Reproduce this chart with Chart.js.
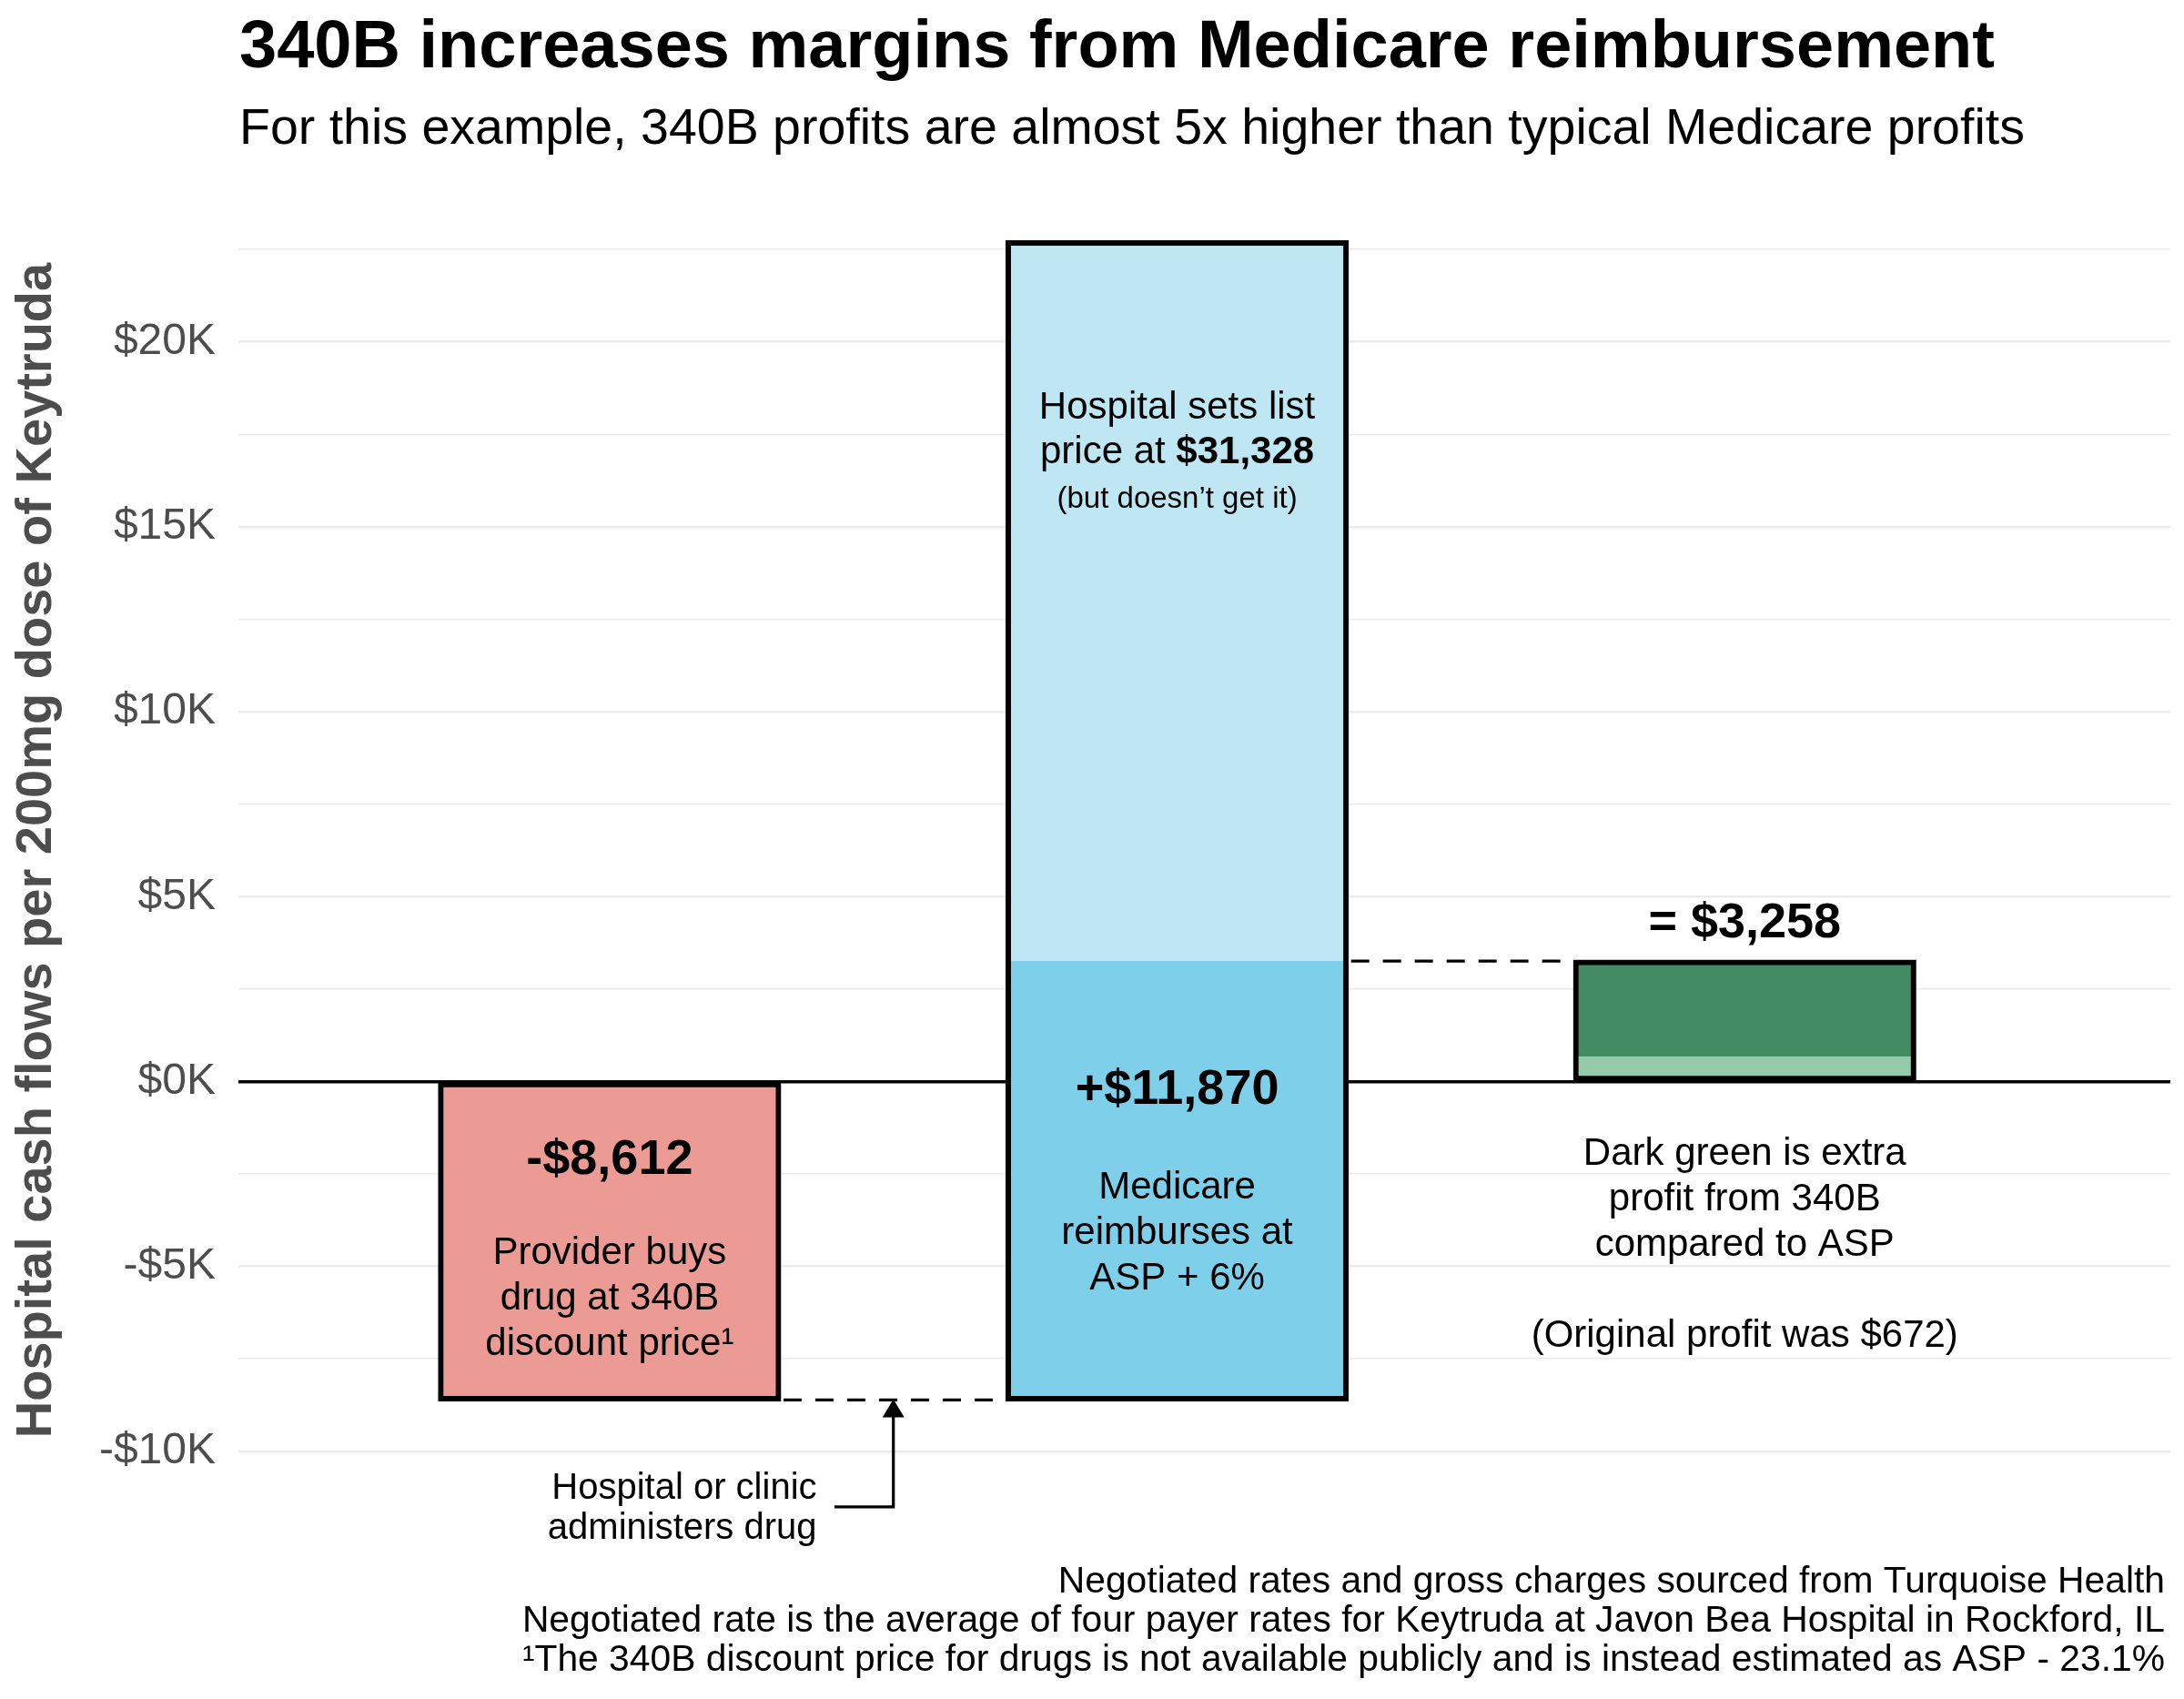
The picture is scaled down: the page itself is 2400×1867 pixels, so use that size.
<!DOCTYPE html>
<html>
<head>
<meta charset="utf-8">
<title>340B increases margins from Medicare reimbursement</title>
<script src="https://cdn.jsdelivr.net/npm/chart.js@4.4.1/dist/chart.umd.min.js"></script>
<style>
    html, body { margin: 0; padding: 0; background: #fff; }
    #chart { display: block; }
</style>
</head>
<body>
<canvas id="chart" width="2400" height="1867"></canvas>
<script>
    // steps of the waterfall, placed at x = 1, 2, 3
    const steps = ["340B purchase", "Medicare reimbursement", "Hospital margin"];
    const stepFlows = [-8612, 11870];      // purchase at 340B price, Medicare pays ASP + 6%
    const listPrice = [31328];             // hospital list price (not collected)
    const aspProfit = [672];               // profit had the drug been bought at ASP
    const yGridTicks = [-10000, -7500, -5000, -2500, 0, 2500, 5000, 7500, 10000, 12500, 15000, 17500, 20000, 22500];
    const yLabelTicks = [-10000, -5000, 0, 5000, 10000, 15000, 20000];

    const FONT = "'Liberation Sans', Arial, Helvetica, sans-serif";
    const palette = {
        salmon: "#eb9b94",
        blue: "#7ecfe9",
        lightBlue: "#bee7f3",
        green: "#438b62",
        lightGreen: "#94ccab",
        ink: "#000000",
        axis: "#4d4d4d",
        grid: "#ebebeb"
    };

    const purchase = stepFlows[0];
    const margin = stepFlows[0] + stepFlows[1];
    const listTop = stepFlows[0] + listPrice[0];

    function money(v) {
        return (v < 0 ? "-" : "") + "$" + Math.abs(v).toLocaleString("en-US");
    }

    function kLabel(v) {
        return (v < 0 ? "-" : "") + "$" + Math.abs(v) / 1000 + "K";
    }

    function bar(label, points, color, extra) {
        return Object.assign({
            label: label,
            data: points,
            backgroundColor: color,
            borderWidth: 0,
            grouped: false,
            barPercentage: 0.6,
            categoryPercentage: 1
        }, extra || {});
    }

    const datasets = [
        // black frame around each full bar, inflated so the stroke sits on the edge
        bar("outline", [
            { x: 1, y: [0, purchase] },
            { x: 2, y: [purchase, listTop] },
            { x: 3, y: [0, margin] }
        ], "rgba(0,0,0,0)", { borderColor: palette.ink, borderWidth: 3, borderSkipped: false, inflateAmount: 1.5 }),
        bar(steps[0], [{ x: 1, y: [0, purchase] }], palette.salmon),
        bar(steps[1], [{ x: 2, y: [purchase, margin] }], palette.blue),
        bar("List price", [{ x: 2, y: [margin, listTop] }], palette.lightBlue),
        bar("ASP profit", [{ x: 3, y: [0, aspProfit[0]] }], palette.lightGreen),
        bar("Extra 340B profit", [{ x: 3, y: [aspProfit[0], margin] }], palette.green)
    ];

    const bold = size => `bold ${size}px ${FONT}`;
    const plain = size => `${size}px ${FONT}`;

    // text blocks: x in step units, y as a value on the cash-flow axis, then line step in px
    const notes = [
        { x: 1, y: -2500, step: 50, lines: [[{ text: money(purchase), font: bold(54) }]] },
        { x: 1, y: -4930, step: 50, lines: [
            [{ text: "Provider buys", font: plain(42) }],
            [{ text: "drug at 340B", font: plain(42) }],
            [{ text: "discount price\u00b9", font: plain(42) }]
        ] },
        { x: 2, y: -600, step: 50, lines: [[{ text: "+" + money(stepFlows[1]), font: bold(54) }]] },
        { x: 2, y: -3160, step: 50, lines: [
            [{ text: "Medicare", font: plain(42) }],
            [{ text: "reimburses at", font: plain(42) }],
            [{ text: "ASP + 6%", font: plain(42) }]
        ] },
        { x: 2, y: 17930, step: 49, lines: [
            [{ text: "Hospital sets list", font: plain(42) }],
            [{ text: "price at ", font: plain(42) }, { text: money(listPrice[0]), font: bold(42) }],
            [{ text: "(but doesn\u2019t get it)", font: plain(33) }]
        ] },
        { x: 3, y: 3900, step: 50, lines: [[{ text: "= " + money(margin), font: bold(54) }]] },
        { x: 3, y: -2250, step: 50, lines: [
            [{ text: "Dark green is extra", font: plain(42) }],
            [{ text: "profit from 340B", font: plain(42) }],
            [{ text: "compared to ASP", font: plain(42) }],
            [],
            [{ text: "(Original profit was " + money(aspProfit[0]) + ")", font: plain(42) }]
        ] }
    ];

    function drawRuns(ctx, runs, cx, baseline, align) {
        const widths = runs.map(r => { ctx.font = r.font; return ctx.measureText(r.text).width; });
        const total = widths.reduce((a, b) => a + b, 0);
        let left = align === "right" ? cx - total : cx - total / 2;
        ctx.textAlign = "left";
        runs.forEach((r, i) => {
            ctx.font = r.font;
            ctx.fillText(r.text, left, baseline);
            left += widths[i];
        });
    }

    const annotations = {
        id: "annotations",
        afterDatasetsDraw(chart) {
            const { ctx, scales: { x, y } } = chart;
            const half = 0.3;
            ctx.save();
            ctx.strokeStyle = palette.ink;
            ctx.lineWidth = 3.3;
            ctx.setLineDash([20, 15]);
            ctx.beginPath();
            ctx.moveTo(x.getPixelForValue(1 + half) + 4, y.getPixelForValue(purchase));
            ctx.lineTo(x.getPixelForValue(2 - half) - 3, y.getPixelForValue(purchase));
            ctx.moveTo(x.getPixelForValue(2 + half) + 4, y.getPixelForValue(margin));
            ctx.lineTo(x.getPixelForValue(3 - half) - 3, y.getPixelForValue(margin));
            ctx.stroke();
            ctx.restore();
        },
        afterDraw(chart) {
            const { ctx, scales: { x, y } } = chart;
            ctx.save();
            ctx.fillStyle = palette.ink;
            ctx.textBaseline = "alphabetic";

            ctx.textAlign = "left";
            ctx.font = bold(74);
            ctx.fillText("340B increases margins from Medicare reimbursement", 263, 74);
            ctx.font = plain(55.5);
            ctx.fillText("For this example, 340B profits are almost 5x higher than typical Medicare profits", 263, 158);

            notes.forEach(n => {
                const cx = x.getPixelForValue(n.x);
                const base = y.getPixelForValue(n.y);
                n.lines.forEach((runs, i) => drawRuns(ctx, runs, cx, base + i * n.step, "center"));
            });

            // administers-drug callout with elbow arrow
            const ax = x.getPixelForValue(1.5);
            const elbow = y.getPixelForValue(-11500);
            const tip = y.getPixelForValue(purchase) - 1;
            ctx.strokeStyle = palette.ink;
            ctx.lineWidth = 3.2;
            ctx.beginPath();
            ctx.moveTo(x.getPixelForValue(1.396), elbow);
            ctx.lineTo(ax, elbow);
            ctx.lineTo(ax, tip + 18);
            ctx.stroke();
            ctx.beginPath();
            ctx.moveTo(ax, tip);
            ctx.lineTo(ax - 12, tip + 20);
            ctx.lineTo(ax + 12, tip + 20);
            ctx.closePath();
            ctx.fill();

            const calloutRight = x.getPixelForValue(1.365);
            const calloutBase = y.getPixelForValue(-11290);
            drawRuns(ctx, [{ text: "Hospital or clinic", font: plain(40) }], calloutRight, calloutBase, "right");
            drawRuns(ctx, [{ text: "administers drug", font: plain(40) }], calloutRight, calloutBase + 44, "right");

            ctx.textAlign = "right";
            ctx.font = plain(40.8);
            ctx.fillText("Negotiated rates and gross charges sourced from Turquoise Health", 2379, 1750);
            ctx.fillText("Negotiated rate is the average of four payer rates for Keytruda at Javon Bea Hospital in Rockford, IL", 2379, 1793);
            ctx.fillText("\u00b9The 340B discount price for drugs is not available publicly and is instead estimated as ASP - 23.1%", 2379, 1836);
            ctx.restore();
        }
    };

    new Chart(document.getElementById("chart"), {
        type: "bar",
        data: { datasets: datasets },
        options: {
            responsive: false,
            animation: false,
            events: [],
            layout: { padding: { top: 199, bottom: 197, left: 0, right: 15 } },
            plugins: { legend: { display: false }, tooltip: { enabled: false } },
            scales: {
                x: {
                    type: "linear",
                    min: 0.346,
                    max: 3.75,
                    offset: false,
                    display: false,
                    grid: { offset: false },
                    afterBuildTicks: scale => { scale.ticks = steps.map((s, i) => ({ value: i + 1 })); }
                },
                y: {
                    min: -11850,
                    max: 24350,
                    afterBuildTicks: scale => { scale.ticks = yGridTicks.map(v => ({ value: v })); },
                    afterFit: scale => { scale.width = 262; },
                    border: { display: false },
                    grid: {
                        drawTicks: false,
                        color: c => c.tick.value === 0 ? palette.ink : palette.grid,
                        lineWidth: c => c.tick.value === 0 ? 3.5 : (yLabelTicks.includes(c.tick.value) ? 2.6 : 1.6)
                    },
                    ticks: {
                        padding: 25,
                        color: palette.axis,
                        font: { family: FONT, size: 48 },
                        callback: v => yLabelTicks.includes(v) ? kLabel(v) : ""
                    },
                    title: {
                        display: true,
                        text: "Hospital cash flows per 200mg dose of Keytruda",
                        color: palette.axis,
                        font: { family: FONT, size: 56, weight: "bold" },
                        padding: { top: 7, bottom: 0 }
                    }
                }
            }
        },
        plugins: [annotations]
    });
</script>
</body>
</html>
